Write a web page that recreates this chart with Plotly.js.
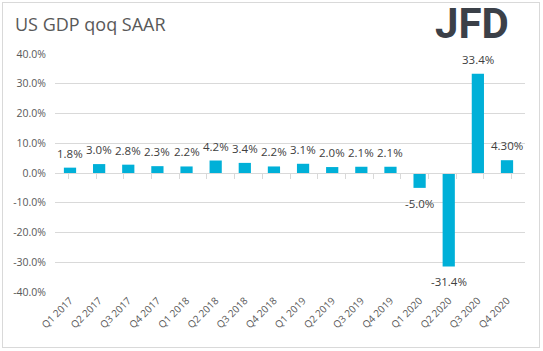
<!DOCTYPE html>
<html><head><meta charset="utf-8">
<script src="https://cdn.plot.ly/plotly-3.0.1.min.js"></script>
<style>
html,body{margin:0;padding:0;background:#fff;}
#frame{position:absolute;left:2px;top:2px;width:538px;height:346px;box-sizing:border-box;border:1px solid #d9d9d9;}
#chart{position:absolute;left:0;top:0;width:543px;height:351px;}
</style></head>
<body>
<div id="frame"></div>
<div id="chart"></div>
<script>
const categories = ["Q1 2017","Q2 2017","Q3 2017","Q4 2017","Q1 2018","Q2 2018","Q3 2018","Q4 2018","Q1 2019","Q2 2019","Q3 2019","Q4 2019","Q1 2020","Q2 2020","Q3 2020","Q4 2020"];
const values = [1.8,3.0,2.8,2.3,2.2,4.2,3.4,2.2,3.1,2.0,2.1,2.1,-5.0,-31.4,33.4,4.3];
const labels = ["1.8%","3.0%","2.8%","2.3%","2.2%","4.2%","3.4%","2.2%","3.1%","2.0%","2.1%","2.1%","-5.0%","-31.4%","33.4%","4.30%"];
const yTicks = [-40,-30,-20,-10,0,10,20,30,40];
const yTickText = ["-40.0%","-30.0%","-20.0%","-10.0%","0.0%","10.0%","20.0%","30.0%","40.0%"];

const font = "Open Sans, Noto Sans, sans-serif";
const barColor = "#00b0d8";

const bars = {
  type: "bar", x: categories, y: values, marker: {color: barColor},
  hoverinfo: "x+y", showlegend: false
};
const axisTicks = {
  type: "scatter", mode: "markers", x: categories, y: categories.map(() => 0),
  xaxis: "x2", marker: {opacity: 0}, hoverinfo: "skip", showlegend: false
};

const annotations = categories.map((c, i) => ({
  x: c, y: values[i], xref: "x", yref: "y", text: labels[i], showarrow: false,
  yanchor: values[i] >= 0 ? "bottom" : "top", yshift: values[i] >= 0 ? 5 : -6,
  font: {family: font, size: 11.5, color: "#404040"}
}));
annotations.push({
  xref: "paper", yref: "paper", x: 1.0, y: 1.0, xanchor: "right", yanchor: "bottom",
  yshift: 4, xshift: -14, text: "<b>JFD</b>", showarrow: false,
  font: {family: "Roboto, sans-serif", size: 42, color: "#3b4048"}
});

const layout = {
  width: 543, height: 351,
  margin: {l: 55, r: 18, t: 54, b: 59},
  paper_bgcolor: "rgba(0,0,0,0)", plot_bgcolor: "rgba(0,0,0,0)",
  title: {text: "US GDP qoq SAAR", x: 15/543, xanchor: "left", y: 1 - 25/351, yanchor: "middle",
          font: {family: font, size: 18, color: "#595959"}},
  bargap: 0.58,
  xaxis: {
    type: "category", showgrid: false, zeroline: false, showline: false, ticks: "",
    tickangle: -45, tickfont: {family: font, size: 10, color: "#595959"}
  },
  xaxis2: {
    type: "category", overlaying: "x", anchor: "free", position: 0.5,
    showline: true, linecolor: "#d9d9d9", linewidth: 1,
    ticks: "outside", tickson: "boundaries", ticklen: 5, tickcolor: "#d9d9d9",
    showticklabels: false, showgrid: false, zeroline: false
  },
  yaxis: {
    range: [-40, 40], tickvals: yTicks, ticktext: yTickText,
    showgrid: true, gridcolor: "#d9d9d9", gridwidth: 1, zeroline: false,
    ticks: "", ticklabelstandoff: 8,
    tickfont: {family: font, size: 10.5, color: "#595959"}
  },
  annotations: annotations
};

Plotly.newPlot("chart", [bars, axisTicks], layout, {displayModeBar: false, staticPlot: true});
</script>
</body></html>
